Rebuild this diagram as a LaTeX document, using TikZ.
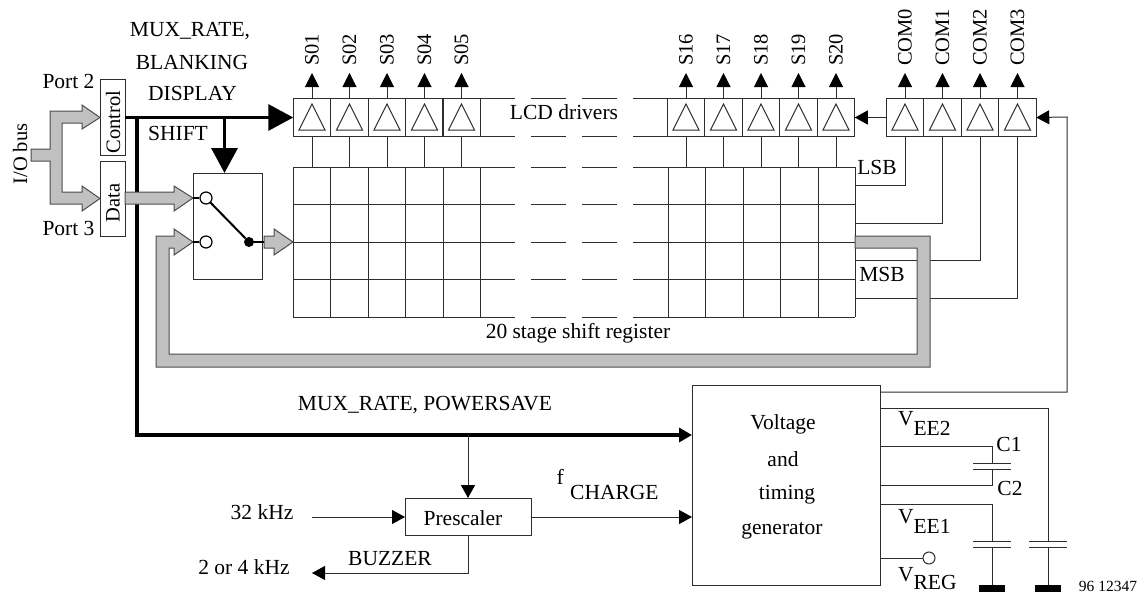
\documentclass[tikz,border=0pt]{standalone}
\usepackage{fontspec}
\setmainfont{Liberation Serif}
\usetikzlibrary{arrows.meta}
\definecolor{buscolor}{RGB}{192,192,192}
\definecolor{wirecolor}{RGB}{45,45,45}
\newcommand{\lblfont}{\fontsize{21.5}{24}\selectfont}
\newcommand{\rotfont}{\fontsize{20.5}{24}\selectfont}
\tikzset{
    lbl/.style={font=\lblfont, inner sep=0pt, outer sep=0pt},
    rotlbl/.style={font=\rotfont, inner sep=0pt, outer sep=0pt, rotate=90},
    boxnode/.style={draw=wirecolor, line width=1pt, inner sep=0pt, outer sep=0pt},
    cellbox/.style={boxnode, minimum width=37.5pt, minimum height=37.5pt},
    sigline/.style={draw=wirecolor, line width=1pt},
    sigarrow/.style={sigline, -{Triangle[length=13pt,width=14pt,color=black]}},
    uparrow/.style={sigline, -{Triangle[length=14pt,width=14pt,color=black]}},
    ctrlbus/.style={draw=black, line width=3.4pt},
    ctrltip/.style={-{Triangle[length=25pt,width=26pt]}},
    graybus/.style={draw=wirecolor!85, line width=1pt, fill=buscolor, line join=miter},
    plate/.style={sigline},
    gndbar/.style={fill=black, inner sep=0pt, minimum width=26pt, minimum height=7pt},
    contactnode/.style={draw=black, line width=1.2pt, fill=white, circle, minimum size=12pt, inner sep=0pt}
}
\begin{document}
\begin{tikzpicture}[x=1pt, y=-1pt]

\useasboundingbox (0,0) rectangle (1146,594);

% Ports and switch
\node[boxnode, minimum width=25pt, minimum height=75pt] (control) at (112.5,117.5) {};
\node[boxnode, minimum width=25pt, minimum height=75pt] (data) at (112.5,198.5) {};
\node[rotlbl] (controltxt) at (113,122) {Control};
\node[rotlbl] (datatxt) at (113,203) {Data};
\node[boxnode, minimum width=69pt, minimum height=106pt] (switch) at (227.5,226) {};

\node[lbl] (port2) at (68.5,81) {Port 2};
\node[lbl] (port3) at (68.5,228) {Port 3};
\node[rotlbl] (iobus) at (20,154) {I/O bus};

% Signal names over the control bus
\node[lbl] (muxrate) at (190,31) {MUX\_RATE,};
\node[lbl] (blanking) at (192,62) {BLANKING};
\node[lbl] (display) at (192.5,93) {DISPLAY};
\node[lbl] (shift) at (178,133) {SHIFT};

% LCD driver cells, segment side
\foreach \x/\name in {312/s01,349.5/s02,387/s03,424.5/s04,461.5/s05,686/s16,723.5/s17,761/s18,798.5/s19,836/s20} {
    \node[cellbox] (\name) at (\x,117.5) {};
    \draw[line width=1pt, draw=wirecolor] (\x-13,130) -- (\x+13,130) -- (\x,104) -- cycle;
    \draw[sigline] (\name.south) -- ++(0,31);
}
\foreach \name/\txt in {s01/S01,s02/S02,s03/S03,s04/S04,s05/S05,s16/S16,s17/S17,s18/S18,s19/S19,s20/S20} {
    \node[rotlbl, anchor=west, inner xsep=7pt] (\name txt) at (\name |- 0,73) {\txt};
    \draw[uparrow] (\name.north) -- (\name txt.west);
}

% COM driver cells
\foreach \x/\name/\txt in {905/com0/COM0,942.5/com1/COM1,980/com2/COM2,1017.5/com3/COM3} {
    \node[cellbox] (\name) at (\x,117.5) {};
    \draw[line width=1pt, draw=wirecolor] (\x-13,130) -- (\x+13,130) -- (\x,104) -- cycle;
    \node[rotlbl, anchor=west, inner xsep=7pt] (\name txt) at (\x,73) {\txt};
    \draw[uparrow] (\name.north) -- (\name txt.west);
}

% Broken rows of the driver band and the register
\foreach \y in {98.75,136.25,167,204.5,242,279.5,317} {
    \draw[sigline] (480,\y) -- (515,\y);
    \draw[sigline] (531,\y) -- (566,\y);
    \draw[sigline] (582,\y) -- (617,\y);
    \draw[sigline] (633,\y) -- (668,\y);
}
\foreach \y in {167,204.5,242,279.5,317} {
    \draw[sigline] (293,\y) -- (480,\y);
    \draw[sigline] (668,\y) -- (855,\y);
}
\foreach \x in {293,330.5,368,405.5,443,480,668,705.5,743,780.5,818,855} {
    \draw[sigline] (\x,167) -- (\x,317);
}
\node[lbl] (lcdtxt) at (564,112) {LCD drivers};
\node[lbl] (shifttxt) at (578,333) {20 stage shift register};
\node[lbl] (lsb) at (877,167) {LSB};
\node[lbl] (msb) at (882,274) {MSB};

% Register outputs back to the COM drivers
\coordinate (bit0) at (855,185.5);
\coordinate (bit1) at (855,223);
\coordinate (bit2) at (855,260.5);
\coordinate (bit3) at (855,298);
\draw[sigline] (com0.south) |- (bit0);
\draw[sigline] (com1.south) |- (bit1);
\draw[sigline] (com2.south) |- (bit2);
\draw[sigline] (com3.south) |- (bit3);
\draw[sigarrow] (com0.west) -- (s20.east);

% Voltage block and prescaler
\node[boxnode, minimum width=188pt, minimum height=200pt] (voltage) at (786,485) {};
\node[lbl] (volttxt) at (783,424) {Voltage};
\node[lbl] (andtxt) at (783,459) {and};
\node[lbl] (timetxt) at (787,495) {timing};
\node[lbl] (gentxt) at (782,531) {generator};
\node[boxnode, minimum width=126pt, minimum height=37pt] (prescaler) at (468,516.5) {};
\node[lbl] (prescaletxt) at (463,518) {Prescaler};

% Control bus
\coordinate (busdrop) at (137,117);
\coordinate (shiftdrop) at (224.5,117);
\coordinate (powerbus) at (137,435);
\coordinate (voltin) at (voltage.west |- powerbus);
\coordinate (prein) at (prescaler.north |- powerbus);
\draw[ctrlbus, ctrltip] (control.east) -- (s01.west);
\draw[ctrlbus, ctrltip] (shiftdrop) -- (shiftdrop |- switch.north);
\draw[ctrlbus, line cap=butt, -{Triangle[length=13pt,width=14pt]}] (busdrop) -- (powerbus) -- (voltin);
\node[lbl] (powertxt) at (425,405) {MUX\_RATE, POWERSAVE};
\draw[sigarrow] (prein) -- (prescaler.north);

% Prescaler connections
\coordinate (clkin) at (312,517);
\coordinate (buzzout) at (312,573);
\coordinate (voltclk) at (voltage.west |- clkin);
\draw[sigarrow] (clkin) -- (clkin -| prescaler.west);
\draw[sigarrow] (clkin -| prescaler.east) -- (voltclk);
\draw[sigarrow] (prescaler.south) |- (buzzout);
\node[lbl] (khz32) at (262,512) {32 kHz};
\node[lbl] (khz24) at (244,567) {2 or 4 kHz};
\node[lbl] (buzzer) at (390,559) {BUZZER};
\node[lbl, anchor=base west] (fcharge) at (556.5,484) {f\hspace{6.5pt}\raisebox{-15pt}{CHARGE}};

% Supply to the COM drivers
\coordinate (comfeed) at (voltage.east |- 0,392);
\draw[sigarrow] (comfeed) -| (1067,117) -- (com3.east);

% Capacitors on the voltage block
\node[gndbar] (gnd1) at (992,588.5) {};
\node[gndbar] (gnd2) at (1048,588.5) {};
\coordinate (vee2) at (voltage.east |- 0,408);
\coordinate (c1pin) at (voltage.east |- 0,446);
\coordinate (c2pin) at (voltage.east |- 0,485);
\coordinate (vee1) at (voltage.east |- 0,504);
\coordinate (c1top) at (992,463.5);
\coordinate (c1bot) at (992,469.5);
\coordinate (cap1top) at (992,541);
\coordinate (cap1bot) at (992,547.5);
\coordinate (cap2top) at (1048,541);
\coordinate (cap2bot) at (1048,547.5);
\draw[sigline] (vee2) -| (cap2top);
\draw[sigline] (cap2bot) -- (gnd2.north);
\draw[sigline] (vee1) -| (cap1top);
\draw[sigline] (cap1bot) -- (gnd1.north);
\draw[sigline] (c1pin) -| (c1top);
\draw[sigline] (c2pin) -| (c1bot);
\foreach \p in {c1top,c1bot,cap1top,cap1bot,cap2top,cap2bot} {
    \draw[plate] ([xshift=-19pt]\p) -- ([xshift=19pt]\p);
}
\node[draw=wirecolor, line width=1pt, circle, minimum size=12pt, inner sep=0pt] (vreg) at (929,558) {};
\draw[sigline] (voltage.east |- vreg) -- (vreg.west);

\node[lbl, anchor=base west] (vee2txt) at (898,425) {V\raisebox{-10pt}{EE2}};
\node[lbl, anchor=base west] (vee1txt) at (898,523) {V\raisebox{-10pt}{EE1}};
\node[lbl, anchor=base west] (vregtxt) at (898,581) {V\raisebox{-8pt}{REG}};
\node[lbl] (c1txt) at (1009,444) {C1};
\node[lbl] (c2txt) at (1010,488) {C2};
\node[lbl, font=\fontsize{15.5}{18}\selectfont] (partno) at (1108,586.5) {96 12347};

% Gray data paths, on top of the wires
\filldraw[graybus] (31,149) -- (50,149) -- (50,111) -- (82,111) -- (82,105) -- (control.west) -- (82,129) -- (82,123)
    -- (62,123) -- (62,192) -- (82,192) -- (82,186) -- (data.west) -- (82,211) -- (82,204) -- (50,204) -- (50,161) -- (31,161) -- cycle;
\filldraw[graybus] (125,192) -- (174,192) -- (174,186) -- (193,198) -- (174,211) -- (174,204) -- (125,204) -- cycle;
\filldraw[graybus] (193,242) -- (174,229) -- (174,236) -- (156,236) -- (156,367) -- (930,367) -- (930,236) -- (855,236)
    -- (855,248) -- (917,248) -- (917,354) -- (169,354) -- (169,248) -- (174,248) -- (174,255) -- cycle;
\filldraw[graybus] (264,236) -- (274,236) -- (274,229) -- (293,242) -- (274,255) -- (274,248) -- (264,248) -- cycle;

% Switch contacts
\node[contactnode] (contacta) at (206,198) {};
\node[contactnode] (contactb) at (206,242) {};
\node[fill=black, circle, minimum size=10pt, inner sep=0pt] (wiper) at (249,242) {};
\draw[black, line width=2pt] (contacta) -- (wiper);
\draw[black, line width=1.5pt] (switch.west |- contacta) -- (contacta.west);
\draw[black, line width=1.5pt] (switch.west |- contactb) -- (contactb.west);
\draw[black, line width=1.5pt] (wiper.center) -- (264,242);

\end{tikzpicture}
\end{document}
